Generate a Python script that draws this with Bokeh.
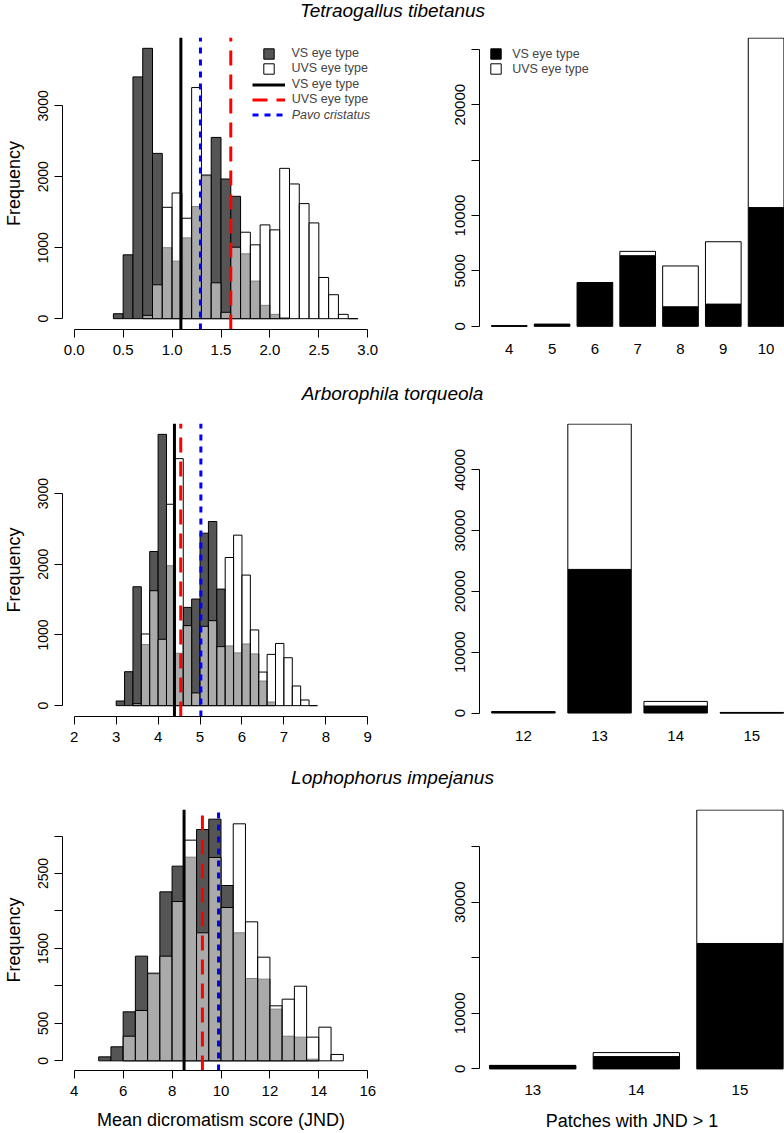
import numpy as np
from bokeh.plotting import figure
from bokeh.models import Range1d, FixedTicker, PrintfTickFormatter, Legend, LegendItem
from bokeh.layouts import column, row
from bokeh.embed import file_html
from bokeh.resources import INLINE
from bokeh.core.properties import value

FONT = "Liberation Sans"

titles = ["Tetraogallus tibetanus", "Arborophila torqueola", "Lophophorus impejanus"]

# ---------- Panel 1: Tetraogallus tibetanus ----------
t_bin = 0.1
t_vs_start = 0.4
t_vs_counts = [70, 900, 3408, 3811, 2330, 1000, 811, 1139, 1580, 2015, 2555, 1969,
               1725, 914, 530, 188, 61, 14]
t_uvs_start = 0.7
t_uvs_counts = [47, 478, 1570, 1772, 1416, 3258, 2025, 506, 90, 1008, 1219, 1041,
                1322, 1252, 2119, 1899, 1622, 1350, 581, 338, 61, 0]
t_lines = [1.09, 1.60, 1.29]  # VS, UVS, Pavo cristatus
t_patch_cats = [4, 5, 6, 7, 8, 9, 10]
t_patch_vs = [40, 180, 3952, 6377, 1766, 2006, 10719]
t_patch_uvs = [0, 0, 0, 390, 3683, 5629, 15299]

# ---------- Panel 2: Arborophila torqueola ----------
a_bin = 0.2
a_vs_start = 3.0
a_vs_counts = [66, 480, 1682, 864, 2181, 3838, 1979, 741, 1390, 1508, 2440, 2605,
               1649, 845, 746, 873, 732, 348, 52]
a_uvs_start = 3.4
a_uvs_counts = [28, 1014, 1626, 939, 2849, 3494, 1132, 180, 1122, 1202, 835, 2096,
                2412, 1847, 1071, 475, 725, 880, 678, 278, 80, 0]
a_lines = [4.39, 4.54, 5.02]
a_patch_cats = [12, 13, 14, 15]
a_patch_vs = [200, 23610, 1150, 40]
a_patch_uvs = [20, 23890, 760, 60]

# ---------- Panel 3: Lophophorus impejanus ----------
l_bin = 0.5
l_vs_start = 5.0
l_vs_counts = [53, 187, 654, 1397, 1160, 2255, 2598, 2718, 3087, 3225, 2340, 1708,
               1099, 1090, 690, 329, 316, 22]
l_uvs_start = 6.0
l_uvs_counts = [329, 672, 1170, 1397, 2126, 2945, 1708, 2714, 2046, 3163, 1855, 1383,
                734, 823, 996, 316, 449, 85]
l_lines = [8.49, 9.24, 9.90]
l_patch_cats = [13, 14, 15]
l_patch_vs = [610, 2226, 22567]
l_patch_uvs = [30, 718, 24004]

# axis ticks
t_xticks = [0.0, 0.5, 1.0, 1.5, 2.0, 2.5, 3.0]
a_xticks = [2, 3, 4, 5, 6, 7, 8, 9]
l_xticks = [4, 6, 8, 10, 12, 14, 16]
t_yticks, t_yminor = [0, 1000, 2000, 3000], []
a_yticks, a_yminor = [0, 1000, 2000, 3000], []
l_yticks, l_yminor = [0, 500, 1500, 2500], [1000, 2000, 3000]
tb_yticks, tb_yminor = [0, 5000, 10000, 20000], [15000, 25000]
ab_yticks, ab_yminor = [0, 10000, 20000, 30000, 40000], []
lb_yticks, lb_yminor = [0, 10000, 30000], [20000, 40000]

legend_hist = ["VS eye type", "UVS eye type"]
legend_lines = ["VS eye type", "UVS eye type", "Pavo cristatus"]
xlabel_left = "Mean dicromatism score (JND)"
xlabel_right = "Patches with JND > 1"
ylabel_left = "Frequency"

VS_GREY = "#555555"
LINE_STYLES = [("black", "solid"), ("#FF0000", "15 9"), ("#0000FF", "6 6")]
XTICK_FONT = "15px"
YTICK_FONT = "14px"
LABEL_FONT = "18px"


def style_axis(ax, tick_font):
    ax.axis_line_color = "black"
    ax.axis_line_width = 1
    ax.major_tick_line_color = "black"
    ax.major_tick_in = 0
    ax.major_tick_out = 8
    ax.minor_tick_line_color = "black"
    ax.minor_tick_in = 0
    ax.minor_tick_out = 8
    ax.major_label_text_font = FONT
    ax.major_label_text_font_size = tick_font
    ax.major_label_text_color = "black"
    ax.axis_label_text_font = FONT
    ax.axis_label_text_font_size = LABEL_FONT
    ax.axis_label_text_font_style = "normal"
    ax.axis_label_text_color = "black"


def title_fig(text, center_from_top):
    h = 30
    t = figure(width=784, height=h, x_range=Range1d(0, 1), y_range=Range1d(0, h),
               output_backend="svg", toolbar_location=None, min_border=0,
               x_axis_type=None, y_axis_type=None)
    t.outline_line_color = None
    t.text(x=[0.5], y=[h - center_from_top], text=[text], text_font=value(FONT),
           text_font_style="italic", text_font_size="19px", text_align="center",
           text_baseline="middle", text_color="black")
    return t


def hist_panel(vs_start, vs_counts, uvs_start, uvs_counts, bw, xlim, xticks, xfmt,
               yticks, yminor, lines, height, top, bottom, xlabel=None, legend=False):
    ymax = max(vs_counts)
    xpad = 0.04 * (xlim[1] - xlim[0])
    p = figure(width=430, height=height,
               x_range=Range1d(xlim[0] - xpad, xlim[1] + xpad),
               y_range=Range1d(-0.04 * ymax, 1.04 * ymax),
               output_backend="svg", toolbar_location=None,
               min_border_left=62, min_border_right=51,
               min_border_top=top, min_border_bottom=bottom)
    p.xgrid.visible = False
    p.ygrid.visible = False
    p.outline_line_color = None
    p.background_fill_color = "white"

    vs_edges = vs_start + bw * np.arange(len(vs_counts) + 1)
    uvs_edges = uvs_start + bw * np.arange(len(uvs_counts) + 1)
    r_vs = p.quad(left=vs_edges[:-1], right=vs_edges[1:], bottom=0, top=vs_counts,
                  fill_color=VS_GREY, line_color="black", line_width=1)
    r_uvs = p.quad(left=uvs_edges[:-1], right=uvs_edges[1:], bottom=0, top=uvs_counts,
                   fill_color="white", fill_alpha=0.5, line_color="black", line_width=1)

    yr = p.y_range
    line_rs = []
    for v, (col, dash) in zip(lines, LINE_STYLES):
        r = p.segment(x0=[v], x1=[v], y0=[yr.start], y1=[yr.end], line_color=col,
                      line_width=3, line_dash=dash)
        line_rs.append(r)

    xa = p.xaxis[0]
    ya = p.yaxis[0]
    style_axis(xa, XTICK_FONT)
    style_axis(ya, YTICK_FONT)
    xa.ticker = FixedTicker(ticks=xticks)
    xa.bounds = (xlim[0], xlim[1])
    if xfmt:
        xa.formatter = PrintfTickFormatter(format=xfmt)
    xa.major_label_standoff = 7
    ya.ticker = FixedTicker(ticks=yticks, minor_ticks=yminor)
    ya.bounds = (0, max(yticks + yminor))
    ya.major_label_orientation = "vertical"
    ya.major_label_standoff = 6
    ya.axis_label = ylabel_left
    ya.axis_label_standoff = 12
    if xlabel:
        xa.axis_label = xlabel
        xa.axis_label_standoff = 11

    if legend:
        fh = height - top - bottom
        common = dict(padding=0, margin=0, border_line_color=None,
                      background_fill_alpha=0, label_text_font=FONT,
                      label_text_font_size="12.5px", label_height=13, spacing=1)
        lg1 = Legend(items=[LegendItem(label=legend_hist[0], renderers=[r_vs]),
                            LegendItem(label=legend_hist[1], renderers=[r_uvs])],
                     location=(199.5, fh - 38.2), glyph_width=13, glyph_height=13,
                     label_standoff=17, **common)
        lg2 = Legend(items=[LegendItem(label=legend_lines[0], renderers=[line_rs[0]]),
                            LegendItem(label=legend_lines[1], renderers=[line_rs[1]])],
                     location=(189.7, fh - 69.2), glyph_width=33, glyph_height=13,
                     label_standoff=7, **common)
        lg3 = Legend(items=[LegendItem(label=legend_lines[2], renderers=[line_rs[2]])],
                     location=(189.7, fh - 84.8), glyph_width=33, glyph_height=13,
                     label_standoff=7, label_text_font_style="italic", **common)
        for lg in (lg1, lg2, lg3):
            p.add_layout(lg)
    return p


def bar_panel(cats, vs, uvs, pad, zero_pad, yticks, yminor, height, top, bottom,
              xlabel=None, legend=False):
    tot = [a + b for a, b in zip(vs, uvs)]
    ymax = max(tot)
    p = figure(width=354, height=height,
               x_range=Range1d(cats[0] - pad, cats[-1] + 0.43),
               y_range=Range1d(-zero_pad * ymax, ymax * 1.002),
               output_backend="svg", toolbar_location=None,
               min_border_left=49, min_border_right=0,
               min_border_top=top, min_border_bottom=bottom)
    p.xgrid.visible = False
    p.ygrid.visible = False
    p.outline_line_color = None
    r_vs = p.vbar(x=cats, width=1 / 1.2, bottom=0, top=vs, fill_color="black",
                  line_color="black", line_width=1)
    r_uvs = p.vbar(x=cats, width=1 / 1.2, bottom=vs, top=tot, fill_color="white",
                   line_color="black", line_width=1)
    xa = p.xaxis[0]
    ya = p.yaxis[0]
    style_axis(xa, XTICK_FONT)
    style_axis(ya, XTICK_FONT)
    xa.ticker = FixedTicker(ticks=cats)
    xa.axis_line_color = None
    xa.major_tick_line_color = None
    xa.major_tick_out = 0
    xa.major_label_standoff = 14
    ya.ticker = FixedTicker(ticks=yticks, minor_ticks=yminor)
    ya.bounds = (0, max(yticks + yminor))
    ya.major_label_orientation = "vertical"
    ya.major_label_standoff = 6
    if xlabel:
        xa.axis_label = xlabel
        xa.axis_label_standoff = 13
    if legend:
        fh = height - top - bottom
        lg = Legend(items=[LegendItem(label=legend_hist[0], renderers=[r_vs]),
                           LegendItem(label=legend_hist[1], renderers=[r_uvs])],
                    location=(10.2, fh - 38.8), glyph_width=13, glyph_height=13,
                    label_standoff=10, padding=0, margin=0, border_line_color=None,
                    background_fill_alpha=0, label_text_font=FONT,
                    label_text_font_size="12.5px", label_height=13, spacing=1)
        p.add_layout(lg)
    return p


h1 = hist_panel(t_vs_start, t_vs_counts, t_uvs_start, t_uvs_counts, t_bin, (0, 3),
                t_xticks, "%.1f", t_yticks, t_yminor, t_lines, 350, 7, 51, legend=True)
b1 = bar_panel(t_patch_cats, t_patch_vs, t_patch_uvs, 0.696, 0.011, tb_yticks,
               tb_yminor, 350, 7, 51, legend=True)
h2 = hist_panel(a_vs_start, a_vs_counts, a_uvs_start, a_uvs_counts, a_bin, (2, 9),
                a_xticks, None, a_yticks, a_yminor, a_lines, 356, 13, 50)
b2 = bar_panel(a_patch_cats, a_patch_vs, a_patch_uvs, 0.577, 0.012, ab_yticks,
               ab_yminor, 356, 13, 50)
h3 = hist_panel(l_vs_start, l_vs_counts, l_uvs_start, l_uvs_counts, l_bin, (4, 16),
                l_xticks, None, l_yticks, l_yminor, l_lines, 337, 13, 63,
                xlabel=xlabel_left)
b3 = bar_panel(l_patch_cats, l_patch_vs, l_patch_uvs, 0.514, 0.006, lb_yticks,
               lb_yminor, 337, 13, 63, xlabel=xlabel_right)

layout = column(title_fig(titles[0], 10), row(h1, b1),
                title_fig(titles[1], 12.5), row(h2, b2),
                title_fig(titles[2], 11), row(h3, b3))

open("out.html", "w").write(file_html(layout, INLINE))
